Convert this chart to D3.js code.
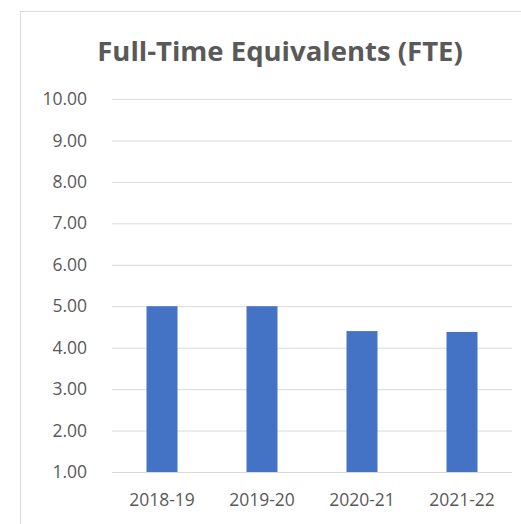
<!DOCTYPE html>
<html>
<head>
<meta charset="utf-8">
<script src="https://cdn.jsdelivr.net/npm/d3@7"></script>
<style>
  html, body { margin: 0; padding: 0; background: #fff; }
  svg { display: block; }
</style>
</head>
<body>
<svg id="chart" width="521" height="524"></svg>
<script>
// FTE per school year
const years = ["2018-19", "2019-20", "2020-21", "2021-22"];
const fte = [5.00, 5.00, 4.40, 4.38];
const yTicks = [1, 2, 3, 4, 5, 6, 7, 8, 9, 10];
const chartTitle = "Full-Time Equivalents (FTE)";

const svg = d3.select("#chart");
const textColor = "#595959";
const font = "'Open Sans', sans-serif";

// chart area frame
svg.append("rect")
  .attr("x", 20.5).attr("y", 11.5)
  .attr("width", 540).attr("height", 540)
  .attr("fill", "#fff")
  .attr("stroke", "#d9d9d9").attr("stroke-width", 1);

const plot = { left: 112, right: 512, top: 99, bottom: 472 };

const x = d3.scaleBand()
  .domain(years)
  .range([plot.left, plot.right])
  .paddingInner(0.69)
  .paddingOuter(0.345);

const y = d3.scaleLinear()
  .domain([1, 10])
  .range([plot.bottom, plot.top]);

// horizontal gridlines
svg.append("g")
  .attr("transform", `translate(${plot.left},0)`)
  .call(d3.axisLeft(y).tickValues(yTicks).tickSize(-(plot.right - plot.left)).tickFormat(""))
  .call(g => g.select(".domain").remove())
  .call(g => g.selectAll(".tick line").attr("stroke", "#d9d9d9").attr("stroke-width", 1));

// y tick labels
svg.append("g")
  .attr("transform", `translate(${plot.left - 25},0)`)
  .call(d3.axisLeft(y).tickValues(yTicks).tickSize(0).tickFormat(d3.format(".2f")))
  .call(g => g.select(".domain").remove())
  .call(g => g.selectAll(".tick text")
    .attr("x", 0)
    .attr("fill", textColor)
    .style("font-family", font)
    .style("font-size", "17.5px"));

// bars
svg.append("g").selectAll("rect")
  .data(years.map((yr, i) => ({ yr, v: fte[i] })))
  .join("rect")
  .attr("x", d => x(d.yr))
  .attr("y", d => y(d.v))
  .attr("width", x.bandwidth())
  .attr("height", d => y(1) - y(d.v))
  .attr("fill", "#4472c4");

// x category labels
svg.append("g")
  .attr("transform", `translate(0,${plot.bottom})`)
  .call(d3.axisBottom(x).tickSize(0).tickPadding(22))
  .call(g => g.select(".domain").remove())
  .call(g => g.selectAll(".tick text")
    .attr("fill", textColor)
    .style("font-family", font)
    .style("font-size", "17.5px"));

// title
svg.append("text")
  .attr("x", 280)
  .attr("y", 61)
  .attr("text-anchor", "middle")
  .attr("fill", textColor)
  .style("font-family", font)
  .style("font-weight", "bold")
  .style("font-size", "27.5px")
  .text(chartTitle);
</script>
</body>
</html>
